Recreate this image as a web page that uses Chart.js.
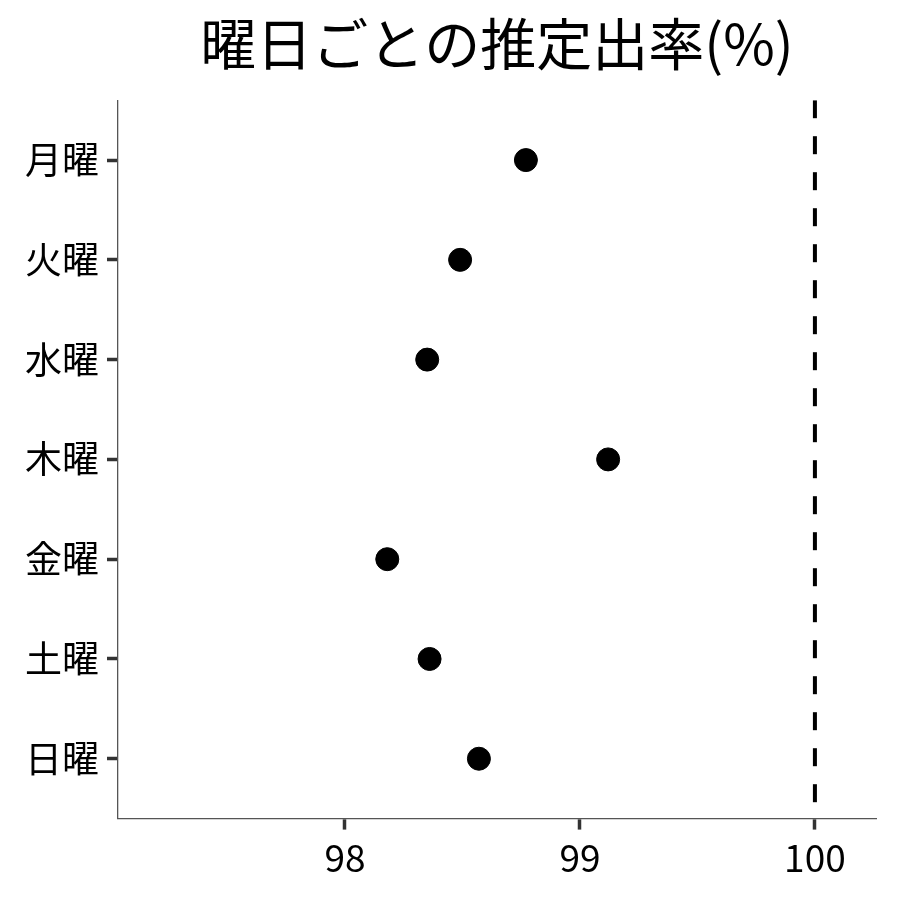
<!DOCTYPE html>
<html lang="ja">
<head>
<meta charset="UTF-8">
<title>曜日ごとの推定出率</title>
<script src="https://cdn.jsdelivr.net/npm/chart.js"></script>
<style>
  body { margin: 0; background: #fff; }
  #wrap { width: 900px; height: 900px; }
</style>
</head>
<body>
<div id="wrap"><canvas id="dotChart"></canvas></div>
<script>
// data
const days = ['月曜', '火曜', '水曜', '木曜', '金曜', '土曜', '日曜'];
const rates = [98.77, 98.49, 98.35, 99.12, 98.18, 98.36, 98.57];
const xTicks = [98, 99, 100];
const refLine = 100;

const font = "'Noto Sans CJK JP', 'Noto Sans', sans-serif";

const points = days.map((d, i) => ({ x: rates[i], y: i }));

const ctx = document.getElementById('dotChart').getContext('2d');
const dotChart = new Chart(ctx, {
    type: 'scatter',
    data: {
        datasets: [{
            label: '推定出率',
            data: points,
            backgroundColor: '#000',
            borderColor: '#000',
            pointRadius: 11.5,
            pointHoverRadius: 11.5
        }, {
            // reference line at 100%
            type: 'line',
            label: 'ref',
            data: [{ x: refLine, y: -0.6 }, { x: refLine, y: days.length - 0.4 }],
            borderColor: '#000',
            borderWidth: 4,
            borderDash: [18, 18],
            pointRadius: 0,
            fill: false
        }]
    },
    options: {
        responsive: true,
        maintainAspectRatio: false,
        animation: false,
        layout: { padding: { left: 17, right: 24, top: 10, bottom: 14 } },
        plugins: {
            legend: { display: false },
            tooltip: { enabled: false },
            title: {
                display: true,
                text: '曜日ごとの推定出率(%)',
                fullSize: false,
                color: '#000',
                font: { family: font, size: 56, weight: 'normal' },
                padding: { top: 0, bottom: 23 }
            }
        },
        scales: {
            x: {
                type: 'linear',
                min: 97.034,
                max: 100.26,
                afterBuildTicks: axis => { axis.ticks = xTicks.map(v => ({ value: v })); },
                grid: {
                    drawOnChartArea: false,
                    drawTicks: true,
                    tickLength: 11,
                    tickColor: '#333',
                    tickWidth: 3.5
                },
                border: { color: '#555', width: 1.3 },
                ticks: {
                    color: '#000',
                    padding: 6,
                    font: { family: font, size: 37 }
                }
            },
            y: {
                type: 'linear',
                reverse: true,
                min: -0.6,
                max: days.length - 0.4,
                afterBuildTicks: axis => { axis.ticks = days.map((d, i) => ({ value: i })); },
                grid: {
                    drawOnChartArea: false,
                    drawTicks: true,
                    tickLength: 11,
                    tickColor: '#333',
                    tickWidth: 3.5
                },
                border: { color: '#555', width: 1.3 },
                ticks: {
                    color: '#000',
                    padding: 8,
                    font: { family: font, size: 37 },
                    callback: v => days[v]
                }
            }
        }
    }
});
</script>
</body>
</html>
